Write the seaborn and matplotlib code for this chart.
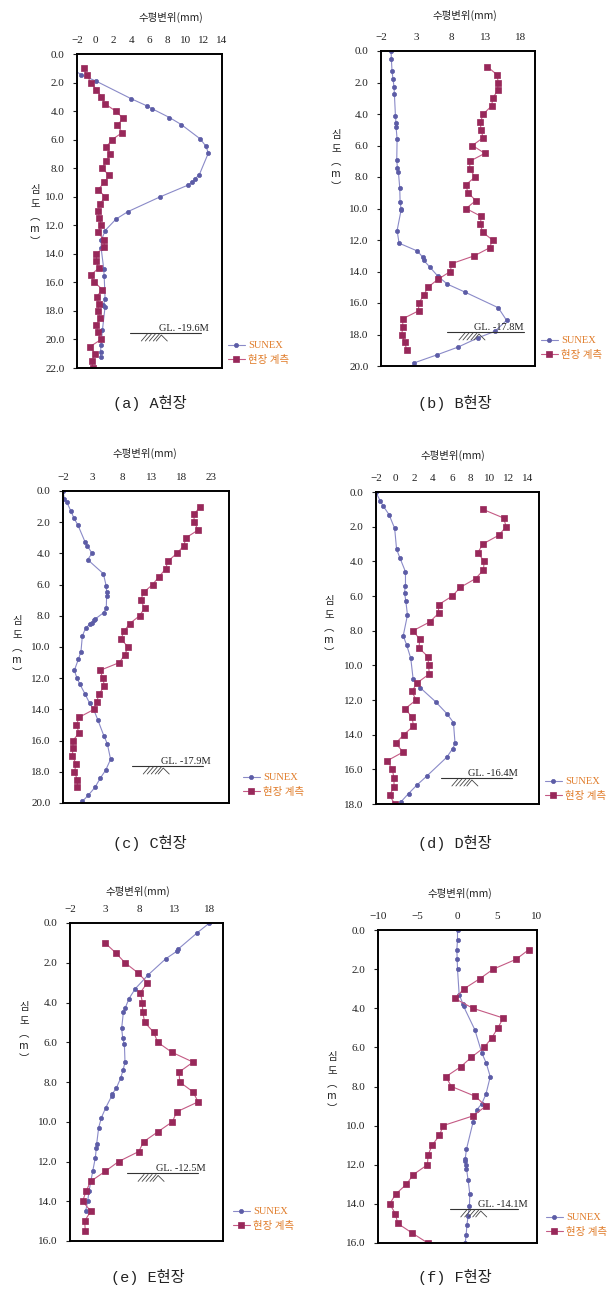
import matplotlib
matplotlib.use("Agg")
import numpy as np
import pandas as pd
import matplotlib.pyplot as plt
import seaborn as sns
from matplotlib.lines import Line2D
from matplotlib.transforms import IdentityTransform
from matplotlib.ticker import FormatStrFormatter

# ---------------- data ----------------
a_sunex_x = [-3.0, -1.54, 0.1, 4.0, 5.7, 6.3, 8.2, 9.5, 11.6, 12.2, 12.5, 11.5, 11.0, 10.7, 10.2, 7.2,
             3.6, 2.3, 1.1, 0.7, 0.66, 0.95, 1.0, 1.1, 0.9, 1.1, 0.8, 0.66, 0.6, 0.6]
a_sunex_d = [0.85, 1.45, 1.9, 3.14, 3.63, 3.84, 4.45, 4.94, 5.95, 6.44, 6.93, 8.45, 8.76, 8.97, 9.2, 10.0,
             11.05, 11.57, 12.37, 13.04, 13.58, 15.06, 15.57, 17.17, 17.59, 17.7, 19.37, 20.37, 20.87, 21.26]
a_field_x = [-1.28, -0.9, -0.48, 0.15, 0.7, 1.1, 2.27, 3.08, 2.45, 3.0, 1.87, 1.25, 1.68, 1.25, 0.77,
             1.54, 1.03, 0.33, 1.1, 0.55, 0.33, 0.48, 0.7, 0.33, 0.95, 1.03, 0.15, 0.15, 0.4, -0.5,
             -0.07, 0.8, 0.18, 0.4, 0.3, 0.55, 0.15, 0.3, 0.66, -0.55, 0.0, -0.37, -0.26]
a_field_d = [1.0, 1.5, 2.0, 2.5, 3.0, 3.5, 4.0, 4.5, 5.0, 5.5, 6.0, 6.5, 7.0, 7.5, 8.0, 8.5, 9.0, 9.5,
             10.0, 10.5, 11.0, 11.5, 12.0, 12.5, 13.0, 13.5, 14.0, 14.5, 15.0, 15.5, 16.0, 16.5, 17.0,
             17.5, 18.0, 18.5, 19.0, 19.5, 20.0, 20.5, 21.0, 21.5, 22.0]

b_sunex_x = [-0.56, -0.52, -0.42, -0.28, -0.13, -0.09, 0.06, 0.15, 0.15, 0.3, 0.25, 0.34, 0.49, 0.68,
             0.73, 0.87, 0.87, 0.3, 0.58, 3.2, 3.98, 4.12, 4.94, 6.13, 7.47, 9.96, 14.75, 15.94, 14.27,
             11.92, 9.0, 5.94, 2.74]
b_sunex_d = [0.0, 0.5, 1.3, 1.8, 2.3, 2.7, 4.1, 4.6, 4.8, 5.6, 6.9, 7.4, 7.7, 8.7, 9.6, 10.0, 10.1, 11.4,
             12.2, 12.7, 13.1, 13.3, 13.7, 14.3, 14.8, 15.3, 16.3, 17.1, 17.8, 18.2, 18.8, 19.3, 19.8]
b_field_x = [13.2, 14.56, 14.75, 14.65, 13.98, 13.79, 12.6, 12.21, 12.26, 12.6, 11.06, 12.83, 10.68,
             10.68, 11.44, 10.1, 10.44, 11.54, 10.15, 12.3, 12.21, 12.5, 13.93, 13.5, 11.35, 8.1, 7.9,
             6.13, 4.7, 4.12, 3.4, 3.36, 1.11, 1.11, 0.97, 1.4, 1.68]
b_field_d = [1.0, 1.5, 2.0, 2.5, 3.0, 3.5, 4.0, 4.5, 5.0, 5.5, 6.0, 6.5, 7.0, 7.5, 8.0, 8.5, 9.0, 9.5,
             10.0, 10.5, 11.0, 11.5, 12.0, 12.5, 13.0, 13.5, 14.0, 14.5, 15.0, 15.5, 16.0, 16.5, 17.0,
             17.5, 18.0, 18.5, 19.0]

c_sunex_x = [-2.0, -1.78, -1.38, -0.65, -0.2, 0.53, 1.76, 2.1, 2.89, 2.16, 4.8, 5.3, 5.36, 5.36, 5.3,
             4.85, 3.45, 3.22, 2.89, 2.6, 1.8, 1.26, 1.03, 0.58, -0.09, 0.36, 0.87, 1.7, 2.49, 3.17,
             3.9, 4.9, 5.47, 6.03, 5.19, 4.3, 3.39, 2.27, 1.26]
c_sunex_d = [0.0, 0.5, 0.7, 1.3, 1.7, 2.2, 3.3, 3.5, 4.0, 4.4, 5.3, 6.1, 6.5, 6.7, 7.5, 7.8, 8.2, 8.3,
             8.45, 8.5, 8.8, 9.3, 10.3, 10.8, 11.5, 12.0, 12.4, 13.0, 13.6, 14.0, 14.7, 15.7, 16.2,
             17.2, 17.9, 18.4, 19.0, 19.5, 19.9]
c_field_x = [21.15, 20.08, 20.13, 20.8, 18.73, 18.39, 17.2, 15.7, 15.3, 14.18, 13.1, 11.6, 11.1, 11.76,
             10.92, 9.24, 8.28, 7.78, 9.0, 8.39, 7.5, 4.24, 4.74, 4.97, 4.12, 3.67, 3.22, 0.75, 0.25,
             0.7, -0.31, -0.31, -0.43, 0.25, -0.09, 0.42, 0.42]
c_field_d = [1.0, 1.5, 2.0, 2.5, 3.0, 3.5, 4.0, 4.5, 5.0, 5.5, 6.0, 6.5, 7.0, 7.5, 8.0, 8.5, 9.0, 9.5,
             10.0, 10.5, 11.0, 11.5, 12.0, 12.5, 13.0, 13.5, 14.0, 14.5, 15.0, 15.5, 16.0, 16.5, 17.0,
             17.5, 18.0, 18.5, 19.0]

d_sunex_x = [-2.02, -1.57, -1.25, -0.63, -0.03, 0.17, 0.52, 1.11, 1.11, 1.01, 1.15, 1.32, 0.87, 1.22,
             1.67, 1.92, 2.68, 4.29, 5.5, 6.17, 6.34, 6.1, 5.47, 3.34, 2.33, 1.43, 0.59]
d_sunex_d = [0.0, 0.5, 0.8, 1.3, 2.1, 3.3, 3.8, 4.6, 5.4, 5.8, 6.3, 7.1, 8.3, 8.8, 9.6, 10.8, 11.3, 12.1,
             12.8, 13.3, 14.5, 14.8, 15.3, 16.4, 16.9, 17.4, 17.9]
d_field_x = [9.27, 11.46, 11.74, 10.94, 9.27, 8.75, 9.41, 9.34, 8.5, 6.9, 6.06, 4.6, 4.6, 3.66, 1.92,
             2.61, 2.54, 3.48, 3.55, 3.62, 2.37, 1.78, 2.23, 1.08, 1.81, 1.95, 0.94, 0.07, 0.87, -0.8,
             -0.28, -0.1, -0.1, -0.56, -0.03]
d_field_d = [1.0, 1.5, 2.0, 2.5, 3.0, 3.5, 4.0, 4.5, 5.0, 5.5, 6.0, 6.5, 7.0, 7.5, 8.0, 8.5, 9.0, 9.5,
             10.0, 10.5, 11.0, 11.5, 12.0, 12.5, 13.0, 13.5, 14.0, 14.5, 15.0, 15.5, 16.0, 16.5, 17.0,
             17.5, 18.0]

e_sunex_x = [18.05, 16.27, 13.6, 13.45, 11.77, 9.27, 7.4, 6.49, 5.91, 5.67, 5.43, 5.58, 5.82, 5.91,
             5.63, 5.29, 4.67, 4.09, 4.0, 3.13, 2.51, 2.12, 1.84, 1.79, 1.65, 1.26, 0.73, 0.54, 0.25]
e_sunex_d = [0.0, 0.5, 1.3, 1.4, 1.8, 2.6, 3.3, 3.8, 4.3, 4.5, 5.3, 5.8, 6.1, 7.0, 7.4, 7.8, 8.3, 8.6,
             8.7, 9.3, 9.8, 10.3, 11.1, 11.3, 11.8, 12.5, 13.5, 14.0, 14.5]
e_field_x = [3.04, 4.57, 5.91, 7.74, 9.13, 8.12, 8.41, 8.46, 8.74, 10.04, 10.61, 12.63, 15.7, 13.68,
             13.78, 15.7, 16.42, 13.35, 12.72, 10.66, 8.6, 7.88, 5.0, 3.04, 0.97, 0.3, -0.18, 0.97,
             0.11, 0.2]
e_field_d = [1.0, 1.5, 2.0, 2.5, 3.0, 3.5, 4.0, 4.5, 5.0, 5.5, 6.0, 6.5, 7.0, 7.5, 8.0, 8.5, 9.0, 9.5,
             10.0, 10.5, 11.0, 11.5, 12.0, 12.5, 13.0, 13.5, 14.0, 14.5, 15.0, 15.5]

f_sunex_x = [0.0, 0.0, -0.08, -0.04, 0.0, 0.21, 0.71, 0.76, 2.18, 3.07, 3.61, 4.12, 3.57, 3.03, 2.39,
             1.97, 1.13, 0.97, 1.0, 1.05, 1.13, 1.34, 1.55, 1.5, 1.34, 1.18, 1.09, 0.97]
f_sunex_d = [0.0, 0.5, 1.0, 1.5, 2.0, 3.3, 3.8, 3.9, 5.1, 6.3, 6.8, 7.5, 8.4, 8.9, 9.2, 9.8, 11.2, 11.7,
             11.8, 12.0, 12.2, 12.8, 13.5, 14.1, 14.6, 15.1, 15.6, 16.0]
f_field_x = [8.99, 7.35, 4.5, 2.77, 0.84, -0.34, 1.93, 5.76, 5.08, 4.33, 3.36, 1.76, 0.38, -1.47, -0.76,
             2.23, 3.57, 1.97, -1.81, -2.27, -3.19, -3.7, -3.78, -5.55, -6.43, -7.77, -8.53, -7.82,
             -7.52, -5.67, -3.74]
f_field_d = [1.0, 1.5, 2.0, 2.5, 3.0, 3.5, 4.0, 4.5, 5.0, 5.5, 6.0, 6.5, 7.0, 7.5, 8.0, 8.5, 9.0, 9.5,
             10.0, 10.5, 11.0, 11.5, 12.0, 12.5, 13.0, 13.5, 14.0, 14.5, 15.0, 15.5, 16.0]

x_ticks_a = [-2, 0, 2, 4, 6, 8, 10, 12, 14]
x_ticks_b = [-2, 3, 8, 13, 18]
x_ticks_c = [-2, 3, 8, 13, 18, 23]
x_ticks_d = [-2, 0, 2, 4, 6, 8, 10, 12, 14]
x_ticks_e = [-2, 3, 8, 13, 18]
x_ticks_f = [-10, -5, 0, 5, 10]

gl_labels = ["GL. -19.6M", "GL. -17.8M", "GL. -17.9M", "GL. -16.4M", "GL. -12.5M", "GL. -14.1M"]
gl_depths = [19.55, 17.84, 17.63, 16.5, 12.6, 14.26]
captions = ["(a) A현장", "(b) B현장", "(c) C현장", "(d) D현장", "(e) E현장", "(f) F현장"]
series_names = ["SUNEX", "현장 계측"]
axis_title = "수평변위(mm)"
depth_chars = ["심", "도", "︵", "m", "︶"]

# ---------------- layout (pixels) ----------------
W, H = 608, 1293
panels = [
    dict(sx=a_sunex_x, sd=a_sunex_d, fx=a_field_x, fd=a_field_d, xt=x_ticks_a, xlim=(-2, 14), ymax=22,
         box=(77, 222, 54, 368), gl=(3.85, 11.65, 7.1), title=(171, 17), leg=(228, 353), ylab=(35, 216), cap=(150, 403)),
    dict(sx=b_sunex_x, sd=b_sunex_d, fx=b_field_x, fd=b_field_d, xt=x_ticks_b, xlim=(-2, 20), ymax=20,
         box=(381, 535, 51, 366), gl=(7.38, 18.38, 11.3), title=(465, 15), leg=(541, 348), ylab=(336, 161), cap=(455, 403)),
    dict(sx=c_sunex_x, sd=c_sunex_d, fx=c_field_x, fd=c_field_d, xt=x_ticks_c, xlim=(-2, 26), ymax=20,
         box=(63, 229, 491, 803), gl=(9.63, 21.54, 14.57), title=(145, 453), leg=(243, 785), ylab=(17, 647), cap=(150, 843)),
    dict(sx=d_sunex_x, sd=d_sunex_d, fx=d_field_x, fd=d_field_d, xt=x_ticks_d, xlim=(-2, 15.2), ymax=18,
         box=(376, 539, 492, 804), gl=(4.81, 12.3, 7.7), title=(453, 455), leg=(545, 789), ylab=(329, 627), cap=(455, 843)),
    dict(sx=e_sunex_x, sd=e_sunex_d, fx=e_field_x, fd=e_field_d, xt=x_ticks_e, xlim=(-2, 20), ymax=16,
         box=(70, 223, 923, 1241), gl=(6.15, 16.4, 10.3), title=(138, 891), leg=(233, 1219), ylab=(24, 1033), cap=(148, 1277)),
    dict(sx=f_sunex_x, sd=f_sunex_d, fx=f_field_x, fd=f_field_d, xt=x_ticks_f, xlim=(-10, 10), ymax=16,
         box=(378, 537, 930, 1243), gl=(-0.97, 7.65, 2.56), title=(460, 893), leg=(546, 1225), ylab=(332, 1083), cap=(455, 1277)),
]
char_offsets = [-26, -12, 1, 13, 26]

sns.set_style("white")
plt.rcParams["font.family"] = ["Liberation Serif", "Noto Sans CJK KR"]
plt.rcParams["axes.unicode_minus"] = True

blue_line = "#8a8ac8"
blue_mk = "#5c5ca6"
red_line = "#c45a84"
red_mk = "#98285a"
orange = "#e07b28"
kfont = ["Noto Sans CJK KR", "DejaVu Sans"]

fig = plt.figure(figsize=(W / 100, H / 100), dpi=100)
fig.patch.set_facecolor("white")


def fx(px):
    return px / W


def fy(py):
    return 1 - py / H


for i, p in enumerate(panels):
    l, r, t, b = p["box"]
    ax = fig.add_axes([fx(l), fy(b), (r - l) / W, (b - t) / H])
    df_s = pd.DataFrame({"disp": p["sx"], "depth": p["sd"]})
    df_f = pd.DataFrame({"disp": p["fx"], "depth": p["fd"]})
    sns.lineplot(data=df_s, x="disp", y="depth", sort=False, estimator=None, ax=ax,
                 color=blue_line, lw=0.8, marker="o", ms=3.0, mfc=blue_mk, mec=blue_mk,
                 mew=0.5, label=series_names[0])
    sns.lineplot(data=df_f, x="disp", y="depth", sort=False, estimator=None, ax=ax,
                 color=red_line, lw=0.8, marker="s", ms=3.8, mfc=red_mk, mec=red_mk,
                 mew=0.5, label=series_names[1])
    ax.set_xlim(*p["xlim"])
    ax.set_ylim(p["ymax"], 0)
    ax.set_xticks(p["xt"])
    ax.set_yticks(np.arange(0, p["ymax"] + 0.01, 2.0))
    ax.yaxis.set_major_formatter(FormatStrFormatter("%.1f"))
    ax.xaxis.tick_top()
    ax.tick_params(axis="x", top=True, bottom=False, labeltop=True, labelbottom=False,
                   length=0, pad=6.5, labelsize=8, colors="#222222")
    ax.tick_params(axis="y", left=True, length=3, width=0.8, direction="out", pad=6,
                   labelsize=8, colors="#222222")
    ax.set_xlabel("")
    ax.set_ylabel("")
    for s in ax.spines.values():
        s.set_color("black")
        s.set_linewidth(1.4)
    ax.grid(False)

    # legend
    leg = ax.legend(loc="center left", bbox_to_anchor=(fx(p["leg"][0]), fy(p["leg"][1])),
                    bbox_transform=fig.transFigure, frameon=False, borderpad=0, borderaxespad=0,
                    handlelength=1.6, handletextpad=0.3, labelspacing=0.45,
                    prop={"family": ["Liberation Serif", "Noto Sans CJK KR"], "size": 7.5})
    for txt in leg.get_texts():
        txt.set_color(orange)

    # ground level marker
    gx0, gx1, gtx = p["gl"]
    gd = gl_depths[i]
    ax.plot([gx0, gx1], [gd, gd], color="#333333", lw=0.8)
    ax.text(gtx, gd, gl_labels[i], fontsize=7.5, ha="left", va="bottom", color="#222222",
            family=["Liberation Serif"])
    hx = gx0 + 0.16 * (gx1 - gx0)
    bx, by = ax.transData.transform((hx, gd))
    for k in range(4):
        fig.add_artist(Line2D([bx + k * 4, bx + k * 4 + 6], [by - 8, by - 1],
                              transform=IdentityTransform(), color="#444444", lw=0.6))
    fig.add_artist(Line2D([bx + 15, bx + 20, bx + 26], [by - 8, by - 2, by - 8],
                          transform=IdentityTransform(), color="#444444", lw=0.6))

    # titles / labels
    fig.text(fx(p["title"][0]), fy(p["title"][1]), axis_title, ha="center", va="center",
             fontsize=7.5, family=kfont, color="#222222")
    cx, cy = p["ylab"]
    for ch, off in zip(depth_chars, char_offsets):
        fig.text(fx(cx), fy(cy + off), ch, ha="center", va="center", rotation=0,
                 fontsize=7.5, family=kfont, color="#222222")
    fig.text(fx(p["cap"][0]), fy(p["cap"][1]), captions[i], ha="center", va="center",
             fontsize=11, family=["Liberation Mono", "Noto Sans CJK KR"], color="#222222")

fig.savefig("out.png", dpi=100, facecolor="white")
